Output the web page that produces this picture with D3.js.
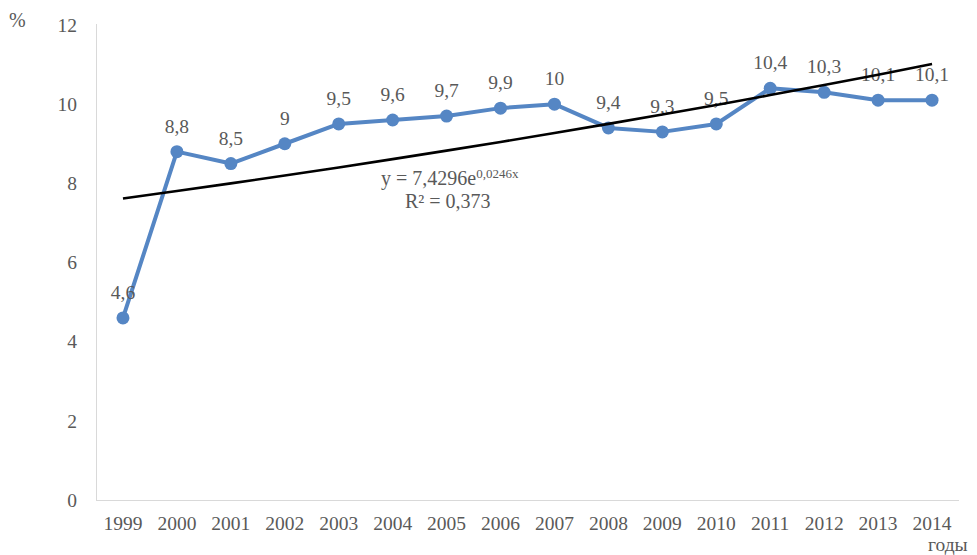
<!DOCTYPE html>
<html><head><meta charset="utf-8">
<script src="https://cdn.jsdelivr.net/npm/d3@7"></script>
<style>body{margin:0;background:#fff}svg{display:block}text{font-family:"Liberation Serif","Times New Roman",serif;fill:#595959}</style>
</head><body><svg id="c" width="977" height="555"></svg>
<script>
const years = ["1999","2000","2001","2002","2003","2004","2005","2006","2007","2008","2009","2010","2011","2012","2013","2014"];
const values = [4.6,8.8,8.5,9,9.5,9.6,9.7,9.9,10,9.4,9.3,9.5,10.4,10.3,10.1,10.1];
const labels = ["4,6","8,8","8,5","9","9,5","9,6","9,7","9,9","10","9,4","9,3","9,5","10,4","10,3","10,1","10,1"];
const yTicks = [0,2,4,6,8,10,12];
const trendA = 7.4296, trendB = 0.0246;

(function(){
const svg = d3.select("#c");
const mL = 96, mR = 959, mT = 25, mB = 500;
const fs = "19.5px";
const x = d3.scaleBand().domain(years).range([mL, mR]);
const y = d3.scaleLinear().domain([0,12]).range([mB, mT]);
const cx = d => x(d) + x.bandwidth()/2;

svg.append("line").attr("x1",mL+0.5).attr("x2",mL+0.5).attr("y1",mT-1).attr("y2",mB).attr("stroke","#d9d9d9");
svg.append("line").attr("x1",mL).attr("x2",mR).attr("y1",mB+0.5).attr("y2",mB+0.5).attr("stroke","#d9d9d9");

const ya = svg.append("g").attr("transform",`translate(${mL},0)`).call(d3.axisLeft(y).tickValues(yTicks).tickSize(0).tickPadding(19));
ya.select(".domain").remove();
ya.selectAll("text").style("font-size",fs).attr("fill","#595959").style("font-family","Liberation Serif");

const xa = svg.append("g").attr("transform",`translate(0,${mB})`).call(d3.axisBottom(x).tickSize(0).tickPadding(16));
xa.select(".domain").remove();
xa.selectAll("text").style("font-size",fs).attr("fill","#595959").style("font-family","Liberation Serif");

const line = d3.line().x((d,i)=>cx(years[i])).y(d=>y(d));
svg.append("path").datum(values).attr("d",line).attr("fill","none").attr("stroke","#5586c4").attr("stroke-width",4).attr("stroke-linejoin","round");
svg.selectAll("circle").data(values).join("circle").attr("cx",(d,i)=>cx(years[i])).attr("cy",d=>y(d)).attr("r",6.5).attr("fill","#5586c4");

svg.selectAll("text.lbl").data(values).join("text").attr("class","lbl")
  .attr("x",(d,i)=>cx(years[i])).attr("y",d=>y(d)-19).attr("text-anchor","middle")
  .style("font-size",fs).text((d,i)=>labels[i]);

const tData = years.map((yr,i)=>({yr, v: trendA*Math.exp(trendB*(i+1))}));
svg.append("path").datum(tData).attr("d",d3.line().x(d=>cx(d.yr)).y(d=>y(d.v)))
  .attr("fill","none").attr("stroke","#000").attr("stroke-width",2.6);

const eq = svg.append("text").attr("x",381).attr("y",185).style("font-size","20px");
eq.append("tspan").text("y = 7,4296e");
eq.append("tspan").attr("dy",-7).style("font-size","13px").text("0,0246x");
svg.append("text").attr("x",405).attr("y",208).style("font-size","20px").text("R² = 0,373");

svg.append("text").attr("x",9).attr("y",27).style("font-size","20px").text("%");
svg.append("text").attr("x",928).attr("y",551).style("font-size","19.5px").text("годы");
})();
</script></body></html>
